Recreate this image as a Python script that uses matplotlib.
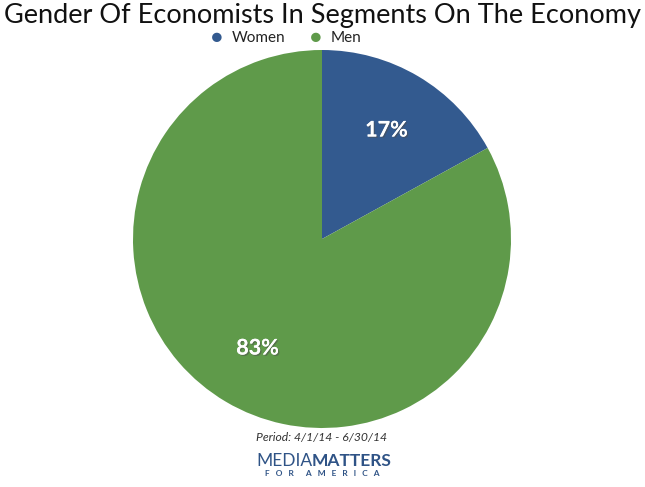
#!/usr/bin/env python3
"""Pie chart: gender of economists in segments on the economy."""

import matplotlib

matplotlib.use("Agg")
import matplotlib.patheffects as pe
import matplotlib.pyplot as plt

LABELS = ["Women", "Men"]
SHARES = [17, 83]
COLORS = ["#335a8f", "#5f9a4a"]
TITLE = "Gender Of Economists In Segments On The Economy"
PERIOD = "Period: 4/1/14 - 6/30/14"

W, H = 645, 487
plt.rcParams["font.family"] = ["Lato", "DejaVu Sans"]

fig = plt.figure(figsize=(W / 100, H / 100), dpi=100)
fig.patch.set_facecolor("white")

# pie centre (322, 239) px from top, radius 189 px
cx, cy, r = 322, H - 239, 189
ax = fig.add_axes([(cx - r) / W, (cy - r) / H, 2 * r / W, 2 * r / H])
wedges, _, autotexts = ax.pie(
    SHARES,
    colors=COLORS,
    startangle=90,
    counterclock=False,
    radius=1,
    autopct="%d%%",
    pctdistance=0.67,
    wedgeprops={"linewidth": 0},
)
for t in autotexts:
    t.set_color("white")
    t.set_fontsize(15.5)
    t.set_fontweight("bold")
    t.set_path_effects([pe.withSimplePatchShadow(offset=(1, -1), alpha=0.5), pe.Normal()])
ax.set_xlim(-1, 1)
ax.set_ylim(-1, 1)
ax.set_aspect("equal")
ax.axis("off")

fig.text(322 / W, 1 - 15 / H, TITLE, ha="center", va="center", fontsize=19.5,
         color="#111111")

# legend row
for lx, lab, col in zip([217, 316], LABELS, COLORS):
    fig.text(lx / W, 1 - 38 / H, "\u25cf", ha="center", va="center", fontsize=14, color=col)
    fig.text((lx + 15) / W, 1 - 38 / H, lab, ha="left", va="center", fontsize=11, color="#222222")

fig.text(322 / W, 1 - 437 / H, PERIOD, ha="center", va="center", fontsize=8.7,
         style="italic", color="#333333")
fig.text(312 / W, 1 - 461 / H, "MEDIA", ha="right", va="center", fontsize=12.5,
         color="#2f5386")
fig.text(312 / W, 1 - 461 / H, "MATTERS", ha="left", va="center", fontsize=12.5,
         fontweight="bold", color="#2f5386")
fig.text(322 / W, 1 - 474 / H, "F   O   R      A   M   E   R   I   C   A", ha="center",
         va="center", fontsize=6, fontweight="bold", color="#2f5386")

fig.savefig("out.png", dpi=100)
